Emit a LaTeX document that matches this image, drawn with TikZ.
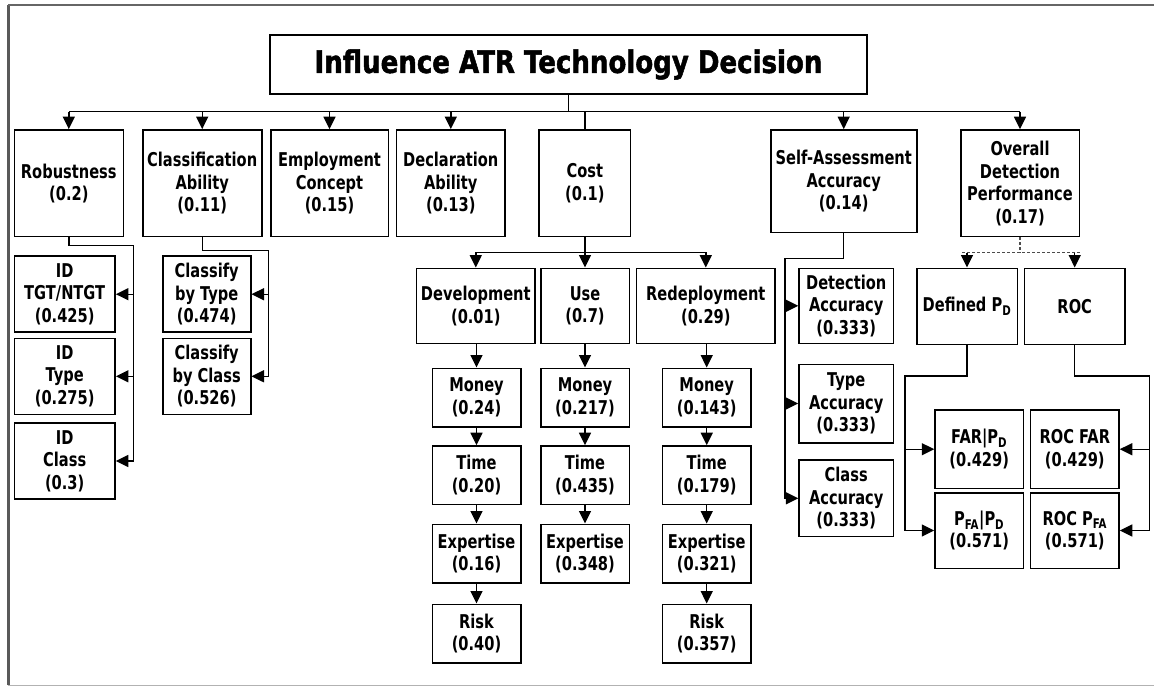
\documentclass[tikz,border=0pt]{standalone}
\usepackage{fontspec}
\usetikzlibrary{arrows.meta}
\newfontfamily\lbl{DejaVu Sans}[FakeStretch=0.77]
\newfontfamily\ttl{DejaVu Sans}[FakeStretch=0.84,FakeBold=1.6]
\tikzset{
  bx/.style={draw, line width=1.6pt, inner sep=0pt, align=center, font=\lbl\bfseries\fontsize{19}{22.5}\selectfont},
  ln/.style={line width=1.4pt},
  arr/.style={line width=1.4pt, -{Triangle[width=12pt,length=12.5pt]}},
  dsh/.style={dash pattern=on 3pt off 2pt, black!70},
}
\begin{document}
\begin{tikzpicture}[x=1pt,y=-1pt]
\useasboundingbox (0,0) rectangle (1154,686);
% frame
\draw[line width=2.5pt, black!65] (8.3,685) -- (8.3,5);
\draw[line width=2pt, black!60] (8.3,5) -- (1154,5);
\draw[line width=1pt, black!30] (8.3,685) -- (1154,685);

% title
\node[draw, line width=1.6pt, inner sep=0pt, minimum width=597pt, minimum height=59pt,
      font=\ttl\bfseries\fontsize{31}{34}\selectfont] (title) at (568.5,64.5) {Influence ATR Technology Decision};

% level 1
\node[bx, minimum width=109pt, minimum height=106.7pt] (rob) at (68.8,183.3) {Robustness\\(0.2)};
\node[bx, minimum width=119pt, minimum height=106.7pt] (cla) at (202.2,183.3) {Classification\\Ability\\(0.11)};
\node[bx, minimum width=117.6pt, minimum height=106.7pt] (emp) at (329.5,183.3) {Employment\\Concept\\(0.15)};
\node[bx, minimum width=108.3pt, minimum height=106.7pt] (dec) at (450.8,183.3) {Declaration\\Ability\\(0.13)};
\node[bx, minimum width=91.7pt, minimum height=106.7pt] (cost) at (584.8,183.3) {Cost\\(0.1)};
\node[bx, minimum width=146pt, minimum height=102.7pt] (sa) at (843.7,181.3) {Self-Assessment\\Accuracy\\(0.14)};
\node[bx, minimum width=118.6pt, minimum height=106.7pt] (ovr) at (1020,183.3) {Overall\\Detection\\Performance\\(0.17)};

% robustness children
\node[bx, minimum width=100.7pt, minimum height=76pt] (idt) at (64.7,294.2) {ID\\TGT/NTGT\\(0.425)};
\node[bx, minimum width=100.7pt, minimum height=76pt] (idty) at (64.7,376.3) {ID\\Type\\(0.275)};
\node[bx, minimum width=100.7pt, minimum height=76pt] (idc) at (64.7,461) {ID\\Class\\(0.3)};

% classification children
\node[bx, minimum width=88pt, minimum height=76pt] (cbt) at (206.7,294.2) {Classify\\by Type\\(0.474)};
\node[bx, minimum width=88pt, minimum height=76pt] (cbc) at (206.7,376.3) {Classify\\by Class\\(0.526)};

% cost children
\node[bx, minimum width=118.3pt, minimum height=75pt] (dev) at (475.8,305.8) {Development\\(0.01)};
\node[bx, minimum width=88.6pt, minimum height=75pt] (use) at (585,305.8) {Use\\(0.7)};
\node[bx, minimum width=138.3pt, minimum height=75pt] (red) at (705.8,305.8) {Redeployment\\(0.29)};

\node[bx, minimum width=88.4pt, minimum height=58.4pt] (dm) at (476.5,397.5) {Money\\(0.24)};
\node[bx, minimum width=88.4pt, minimum height=58.4pt] (dt) at (476.5,475.2) {Time\\(0.20)};
\node[bx, minimum width=88.4pt, minimum height=58.4pt] (de) at (476.5,553.5) {Expertise\\(0.16)};
\node[bx, minimum width=88.4pt, minimum height=58.4pt] (dr) at (476.5,633.5) {Risk\\(0.40)};

\node[bx, minimum width=88.6pt, minimum height=58.4pt] (um) at (585,397.5) {Money\\(0.217)};
\node[bx, minimum width=88.6pt, minimum height=58.4pt] (ut) at (585,475.2) {Time\\(0.435)};
\node[bx, minimum width=88.6pt, minimum height=58.4pt] (ue) at (585,553.5) {Expertise\\(0.348)};

\node[bx, minimum width=88.7pt, minimum height=58.4pt] (rm) at (706.7,397.5) {Money\\(0.143)};
\node[bx, minimum width=88.7pt, minimum height=58.4pt] (rt) at (706.7,475.2) {Time\\(0.179)};
\node[bx, minimum width=88.7pt, minimum height=58.4pt] (re) at (706.7,553.5) {Expertise\\(0.321)};
\node[bx, minimum width=88.7pt, minimum height=58.4pt] (rr) at (706.7,633.5) {Risk\\(0.357)};

% self-assessment children
\node[bx, minimum width=94.3pt, minimum height=75pt] (da) at (846.2,305.8) {Detection\\Accuracy\\(0.333)};
\node[bx, minimum width=94.3pt, minimum height=78.4pt] (ta) at (846.2,403.5) {Type\\Accuracy\\(0.333)};
\node[bx, minimum width=94.3pt, minimum height=76.7pt] (ca) at (846.2,498.3) {Class\\Accuracy\\(0.333)};

% overall children
\node[bx, minimum width=100.6pt, minimum height=76pt] (dpd) at (967,306.3) {Defined P\textsubscript{D}};
\node[bx, minimum width=100.7pt, minimum height=76pt] (roc) at (1074.7,306.3) {ROC};

\node[bx, minimum width=88.3pt, minimum height=78.3pt] (far) at (979.2,449.2) {FAR|P\textsubscript{D}\\(0.429)};
\node[bx, minimum width=88.3pt, minimum height=75.6pt] (pfa) at (979.2,530.5) {P\textsubscript{FA}|P\textsubscript{D}\\(0.571)};
\node[bx, minimum width=88.3pt, minimum height=78.3pt] (rfar) at (1074.8,449.2) {ROC FAR\\(0.429)};
\node[bx, minimum width=88.3pt, minimum height=75.6pt] (rpfa) at (1074.8,530.5) {ROC P\textsubscript{FA}\\(0.571)};

% junction coordinates
\coordinate (bus) at (0,111.7);
\coordinate (rbj) at (133.3,245.7);
\coordinate (cbj) at (268.3,250.7);
\coordinate (cobus) at (0,252.3);
\coordinate (saj) at (785,258.3);
\coordinate (dbus) at (0,252.5);
\coordinate (dpj) at (905,376);
\coordinate (rcj) at (1149.3,376);

% main bus
\draw[ln] (title.south) -- (title.south |- bus);
\draw[ln] (rob.north |- bus) -- (ovr.north |- bus);
\foreach \n in {rob,cla,emp,dec,sa,ovr} \draw[arr] (\n.north |- bus) -- (\n.north);
\draw[ln] (cost.north |- bus) -- (cost.north);

% robustness
\draw[arr] (rob.south) |- (rbj) -- (rbj |- idc.east) -- (idc.east);
\draw[arr] (rbj |- idt.east) -- (idt.east);
\draw[arr] (rbj |- idty.east) -- (idty.east);

% classification
\draw[arr] (cla.south) |- (cbj) -- (cbj |- cbc.east) -- (cbc.east);
\draw[arr] (cbj |- cbt.east) -- (cbt.east);

% cost
\draw[ln] (cost.south) -- (cost.south |- cobus);
\draw[ln] (dev.north |- cobus) -- (red.north |- cobus);
\foreach \n in {dev,use,red} \draw[arr] (\n.north |- cobus) -- (\n.north);

\draw[arr] (dm.north |- dev.south) -- (dm.north);
\draw[arr] (dm.south) -- (dt.north);
\draw[arr] (dt.south) -- (de.north);
\draw[arr] (de.south) -- (dr.north);

\draw[arr] (um.north |- use.south) -- (um.north);
\draw[arr] (um.south) -- (ut.north);
\draw[arr] (ut.south) -- (ue.north);

\draw[arr] (rm.north |- red.south) -- (rm.north);
\draw[arr] (rm.south) -- (rt.north);
\draw[arr] (rt.south) -- (re.north);
\draw[arr] (re.south) -- (rr.north);

% self-assessment
\draw[arr] (sa.south) |- (saj) -- (saj |- ca.west) -- (ca.west);
\draw[arr] (saj |- da.west) -- (da.west);
\draw[arr] (saj |- ta.west) -- (ta.west);

% overall (dashed)
\draw[ln, dsh] (ovr.south) -- (ovr.south |- dbus);
\draw[ln, dsh] ([xshift=-5pt]dpd.north |- dbus) -- ([xshift=5pt]roc.north |- dbus);
\draw[arr] (dpd.north |- dbus) -- (dpd.north);
\draw[arr] (roc.north |- dbus) -- (roc.north);

% defined PD
\draw[arr] (dpd.south) |- (dpj) -- (dpj |- pfa.west) -- (pfa.west);
\draw[arr] (dpj |- far.west) -- (far.west);

% ROC
\draw[arr] (roc.south) |- (rcj) -- (rcj |- rpfa.east) -- (rpfa.east);
\draw[arr] (rcj |- rfar.east) -- (rfar.east);
\end{tikzpicture}
\end{document}
